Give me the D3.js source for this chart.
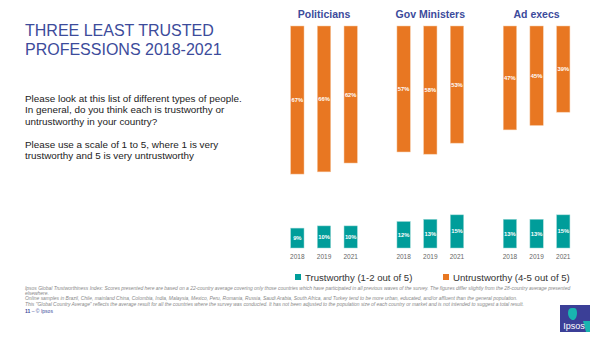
<!DOCTYPE html>
<html>
<head>
<meta charset="utf-8">
<script src="https://cdn.jsdelivr.net/npm/d3@7"></script>
<style>
  body { margin: 0; background: #fff; }
  svg { font-family: "Liberation Sans", Arial, sans-serif; display: block; }
</style>
</head>
<body>
<div id="chart"></div>
<script>
var categories = ["Politicians", "Gov Ministers", "Ad execs"];
var years = ["2018", "2019", "2021"];
var trustworthy = [[9, 10, 10], [12, 13, 15], [13, 13, 15]];
var untrustworthy = [[67, 66, 62], [57, 58, 53], [47, 45, 39]];

var questionLines = [
    "Please look at this list of different types of people.",
    "In general, do you think each is trustworthy or",
    "untrustworthy in your country?",
    "",
    "Please use a scale of 1 to 5, where 1 is very",
    "trustworthy and 5 is very untrustworthy"
];
var footLines = [
    "Ipsos Global Trustworthiness Index: Scores presented here are based on a 22-country average covering only those countries which have participated in all previous waves of the survey. The figures differ slightly from the 28-country average presented",
    "elsewhere.",
    "Online samples in Brazil, Chile, mainland China, Colombia, India, Malaysia, Mexico, Peru, Romania, Russia, Saudi Arabia, South Africa, and Turkey tend to be more urban, educated, and/or affluent than the general population.",
    "This \"Global Country Average\" reflects the average result for all the countries where the survey was conducted. It has not been adjusted to the population size of each country or market and is not intended to suggest a total result."
];

var width = 600,
    height = 337;

var orange = "#e87722",
    teal = "#009d9a",
    blue = "#3c4b9b";

var svg = d3.select("#chart")
    .append("svg")
    .attr("width", width)
    .attr("height", height);

/* title and question */
svg.append("text")
    .attr("x", 25).attr("y", 36)
    .attr("fill", blue).attr("font-size", 16)
    .text("THREE LEAST TRUSTED");
svg.append("text")
    .attr("x", 25).attr("y", 54.5)
    .attr("fill", blue).attr("font-size", 16)
    .text("PROFESSIONS 2018-2021");

svg.append("g")
    .selectAll("text")
    .data(questionLines)
    .enter().append("text")
    .attr("x", 25)
    .attr("y", function(d, i) { return 101.5 + i * 11.55; })
    .attr("font-size", 9.9)
    .attr("fill", "#222")
    .text(function(d) { return d; });

/* scales */
var x0 = d3.scaleBand()
    .domain(categories)
    .range([284, 576.6])
    .paddingInner(0.247);

var x1 = d3.scaleBand()
    .domain(years)
    .range([0, x0.bandwidth()])
    .paddingInner(0.5)
    .paddingOuter(0.25);

var k = 2.21;
var yTop = d3.scaleLinear().domain([0, 100]).range([26, 26 + 100 * k]);
var yBot = d3.scaleLinear().domain([0, 100]).range([248, 248 - 100 * k]);

var groups = svg.append("g")
    .selectAll("g")
    .data(categories)
    .enter().append("g")
    .attr("transform", function(d) { return "translate(" + x0(d) + ",0)"; });

groups.append("text")
    .attr("x", x0.bandwidth() / 2)
    .attr("y", 18)
    .attr("text-anchor", "middle")
    .attr("font-size", 10.5)
    .attr("font-weight", "bold")
    .attr("fill", blue)
    .text(function(d) { return d; });

groups.each(function(cat, ci) {
    var g = d3.select(this);
    var rowsU = years.map(function(y, i) { return {year: y, v: untrustworthy[ci][i]}; });
    var rowsT = years.map(function(y, i) { return {year: y, v: trustworthy[ci][i]}; });

    g.selectAll("rect.u")
        .data(rowsU)
        .enter().append("rect")
        .attr("class", "u")
        .attr("x", function(d) { return x1(d.year); })
        .attr("y", yTop(0))
        .attr("width", x1.bandwidth())
        .attr("height", function(d) { return yTop(d.v) - yTop(0); })
        .attr("fill", orange)
        .attr("stroke", "#f6c9a4")
        .attr("stroke-width", 0.5);

    g.selectAll("text.u")
        .data(rowsU)
        .enter().append("text")
        .attr("class", "u")
        .attr("x", function(d) { return x1(d.year) + x1.bandwidth() / 2; })
        .attr("y", function(d) { return (yTop(0) + yTop(d.v)) / 2 + 2; })
        .attr("text-anchor", "middle")
        .attr("font-size", 5.8)
        .attr("font-weight", "bold")
        .attr("fill", "#fff")
        .text(function(d) { return d.v + "%"; });

    g.selectAll("rect.t")
        .data(rowsT)
        .enter().append("rect")
        .attr("class", "t")
        .attr("x", function(d) { return x1(d.year); })
        .attr("y", function(d) { return yBot(d.v); })
        .attr("width", x1.bandwidth())
        .attr("height", function(d) { return yBot(0) - yBot(d.v); })
        .attr("fill", teal)
        .attr("stroke", "#9fd9d7")
        .attr("stroke-width", 0.5);

    g.selectAll("text.t")
        .data(rowsT)
        .enter().append("text")
        .attr("class", "t")
        .attr("x", function(d) { return x1(d.year) + x1.bandwidth() / 2; })
        .attr("y", function(d) { return (yBot(0) + yBot(d.v)) / 2 + 2; })
        .attr("text-anchor", "middle")
        .attr("font-size", 5.8)
        .attr("font-weight", "bold")
        .attr("fill", "#fff")
        .text(function(d) { return d.v + "%"; });

    /* year labels */
    g.append("g")
        .attr("transform", "translate(0,248)")
        .call(d3.axisBottom(x1).tickSize(0).tickPadding(6))
        .call(function(a) {
            a.select(".domain").remove();
            a.selectAll("text")
                .attr("font-size", 6.5)
                .attr("font-family", "Liberation Sans, Arial, sans-serif")
                .attr("fill", "#666");
        });
});

/* legend */
var legendItems = [
    {label: "Trustworthy (1-2 out of 5)", color: teal, x: 295},
    {label: "Untrustworthy (4-5 out of 5)", color: orange, x: 443}
];
var legend = svg.append("g")
    .selectAll("g")
    .data(legendItems)
    .enter().append("g")
    .attr("transform", function(d) { return "translate(" + d.x + ",274)"; });
legend.append("rect")
    .attr("width", 6).attr("height", 6)
    .attr("fill", function(d) { return d.color; });
legend.append("text")
    .attr("x", 10).attr("y", 6.5)
    .attr("font-size", 9.6)
    .attr("fill", "#333")
    .text(function(d) { return d.label; });

/* footnotes */
svg.append("g")
    .selectAll("text")
    .data(footLines)
    .enter().append("text")
    .attr("x", 25)
    .attr("y", function(d, i) { return 290 + i * 5.2; })
    .attr("font-size", 4.95)
    .attr("font-style", "italic")
    .attr("fill", "#888")
    .text(function(d) { return d; });

svg.append("text")
    .attr("x", 25).attr("y", 313)
    .attr("font-size", 5)
    .attr("fill", blue)
    .html("<tspan font-weight='bold'>11</tspan> \u2013  \u00a9 Ipsos");

/* logo */
var logo = svg.append("g").attr("transform", "translate(560,305)");
logo.append("rect")
    .attr("width", 30).attr("height", 27)
    .attr("fill", "#3b3f97");
logo.append("path")
    .attr("d", "M12,3 Q8,3 8,8 Q8,13 12,15 L14,15 Q17,13 17,8 Q17,3 14,3 Z")
    .attr("fill", "#19b5b0");
logo.append("path")
    .attr("d", "M23,16 L30,16 L30,27 L26,27 Z")
    .attr("fill", "#19b5b0");
logo.append("text")
    .attr("x", 14).attr("y", 24)
    .attr("text-anchor", "middle")
    .attr("font-size", 9)
    .attr("fill", "#fff")
    .text("Ipsos");
</script>
</body>
</html>
